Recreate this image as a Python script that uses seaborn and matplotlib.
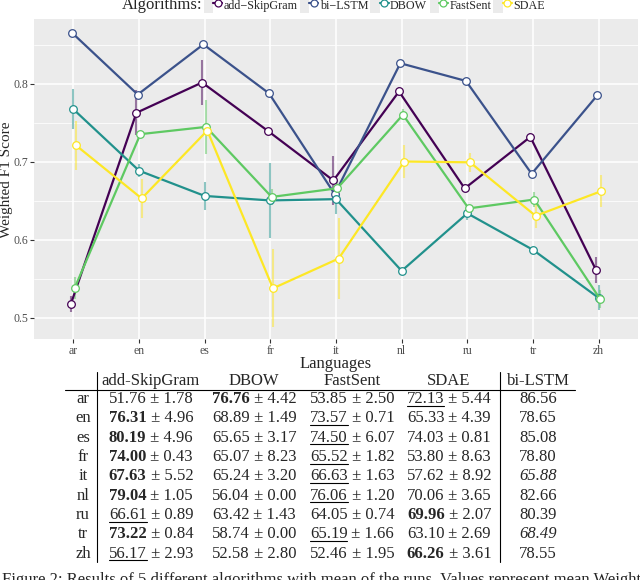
import numpy as np
import pandas as pd
import matplotlib
matplotlib.use("Agg")
import matplotlib.pyplot as plt
import seaborn as sns
from matplotlib.lines import Line2D
from matplotlib.patches import Patch
from matplotlib.legend_handler import HandlerTuple
from matplotlib.ticker import FixedLocator

# ---------------- data ----------------
languages = ["ar", "en", "es", "fr", "it", "nl", "ru", "tr", "zh"]
algorithms = ["add-SkipGram", "bi-LSTM", "DBOW", "FastSent", "SDAE"]
legend_labels = ["add\u2212SkipGram", "bi\u2212LSTM", "DBOW", "FastSent", "SDAE"]

skipgram_mean = [51.76, 76.31, 80.19, 74.00, 67.63, 79.04, 66.61, 73.22, 56.17]
skipgram_sd = [1.78, 4.96, 4.96, 0.43, 5.52, 1.05, 0.89, 0.84, 2.93]
dbow_mean = [76.76, 68.89, 65.65, 65.07, 65.24, 56.04, 63.42, 58.74, 52.58]
dbow_sd = [4.42, 1.49, 3.17, 8.23, 3.20, 0.00, 1.43, 0.00, 2.80]
fastsent_mean = [53.85, 73.57, 74.50, 65.52, 66.63, 76.06, 64.05, 65.19, 52.46]
fastsent_sd = [2.50, 0.71, 6.07, 1.82, 1.63, 1.20, 0.74, 1.66, 1.95]
sdae_mean = [72.13, 65.33, 74.03, 53.80, 57.62, 70.06, 69.96, 63.10, 66.26]
sdae_sd = [5.44, 4.39, 0.81, 8.63, 8.92, 3.65, 2.07, 2.69, 3.61]
bilstm_score = [86.56, 78.65, 85.08, 78.80, 65.88, 82.66, 80.39, 68.49, 78.55]
n_runs = 3

palette = ["#440154", "#3B528B", "#21918C", "#5EC962", "#FDE725"]

# ---------------- long table for the plot ----------------
means = {"add-SkipGram": skipgram_mean, "bi-LSTM": bilstm_score, "DBOW": dbow_mean,
         "FastSent": fastsent_mean, "SDAE": sdae_mean}
sds = {"add-SkipGram": skipgram_sd, "bi-LSTM": [np.nan] * 9, "DBOW": dbow_sd,
       "FastSent": fastsent_sd, "SDAE": sdae_sd}
dodge_width = 0.1
rows = []
for gi, alg in enumerate(algorithms):
    off = (gi - (len(algorithms) - 1) / 2) * dodge_width / len(algorithms)
    for li, lang in enumerate(languages):
        m = means[alg][li] / 100
        se = sds[alg][li] / 100 / np.sqrt(n_runs)
        rows.append(dict(Algorithm=alg, Language=lang, x=li + off, score=m,
                         lo=m - se, hi=m + se))
df = pd.DataFrame(rows)

# ---------------- figure ----------------
W, H = 640, 580
sns.set_style("darkgrid", {"axes.facecolor": "#EBEBEB", "grid.color": "white"})
serif = ["Liberation Serif", "DejaVu Serif"]
plt.rcParams["font.family"] = serif

fig = plt.figure(figsize=(W / 100, H / 100), dpi=100)
fig.patch.set_facecolor("white")


def fx(px):
    return px / W


def fy(py):
    return 1 - py / H


top_px, bot_px = 19, 339
ax = fig.add_axes([fx(34), fy(bot_px), fx(638 - 34), (bot_px - top_px) / H])
ax.set_facecolor("#EBEBEB")

# error bars
for gi, alg in enumerate(algorithms):
    sub = df[df.Algorithm == alg].dropna()
    if len(sub):
        ax.vlines(sub.x, sub.lo, sub.hi, color=palette[gi], alpha=0.5, lw=1.5, zorder=2)

sns.lineplot(data=df, x="x", y="score", hue="Algorithm", hue_order=algorithms,
             palette=palette, estimator=None, sort=True, lw=1.6, marker="o",
             markersize=5.5, markerfacecolor="white", markeredgewidth=0.9,
             legend=False, ax=ax, zorder=3)
for ln in ax.lines:
    ln.set_markeredgecolor(ln.get_color())

# 0.8 at y=84 px and 0.5 at y=318 px
ppu = (318 - 84) / 0.3
ax.set_ylim(0.5 - (bot_px - 318) / ppu, 0.8 + (84 - top_px) / ppu)
ax.set_xlim(-0.6, 8.6)
ax.set_xticks(range(len(languages)))
ax.set_xticklabels(languages)
ax.set_yticks([0.5, 0.6, 0.7, 0.8])
ax.set_yticklabels(["0.5", "0.6", "0.7", "0.8"])
ax.yaxis.set_minor_locator(FixedLocator([0.55, 0.65, 0.75, 0.85]))
ax.grid(which="major", color="white", lw=1.1)
ax.grid(which="minor", axis="y", color="white", lw=0.55)
ax.tick_params(which="major", length=3, color="#333333", labelcolor="#4D4D4D",
               labelsize=8.5, pad=1.2, bottom=True, left=True)
ax.tick_params(which="minor", length=0)
for s in ax.spines.values():
    s.set_visible(False)
ax.set_xlabel("")
ax.set_ylabel("")
for lab in ax.get_xticklabels() + ax.get_yticklabels():
    lab.set_family(serif)

fig.text(fx(336), fy(364), "Languages", ha="center", va="center", fontsize=12)
fig.text(fx(7), fy(180), "Weighted F1 Score", ha="center", va="center",
         rotation=90, fontsize=11)

# legend
handles = [(Patch(facecolor="#EBEBEB", edgecolor="none"),
            Line2D([], [], color=c, lw=1.6, marker="o", markersize=5,
                   markerfacecolor="white", markeredgecolor=c, markeredgewidth=0.9))
           for c in palette]
fig.legend(handles, legend_labels, handler_map={tuple: HandlerTuple(ndivide=None)},
           ncol=5, loc="center left", bbox_to_anchor=(fx(204), fy(5)), frameon=False,
           fontsize=8.7, handlelength=1.5, handleheight=1.6, handletextpad=0.12,
           columnspacing=0.2, borderpad=0, borderaxespad=0)
fig.text(fx(202), fy(5), "Algorithms:", ha="right", va="center", fontsize=12)

# ---------------- table ----------------
renderer = fig.canvas.get_renderer()
col_centers = [151, 254, 352, 449, 538]
row_label_x = 83
header_base = 385
row_base0 = 403
row_step = 19.35
fs = 12


def put_cell(xc, base, parts):
    texts = []
    for s, w, st, ul in parts:
        t = fig.text(0, fy(base), s, fontsize=fs, fontweight=w, fontstyle=st,
                     ha="left", va="baseline")
        texts.append((t, ul))
    widths = [t.get_window_extent(renderer).width for t, _ in texts]
    x = xc - sum(widths) / 2
    for (t, ul), w in zip(texts, widths):
        t.set_x(fx(x))
        if ul:
            fig.add_artist(Line2D([fx(x), fx(x + w)], [fy(base + 2.5)] * 2,
                                  color="black", lw=0.8))
        x += w


headers = ["add-SkipGram", "DBOW", "FastSent", "SDAE", "bi-LSTM"]
for xc, h in zip(col_centers, headers):
    put_cell(xc, header_base, [(h, "normal", "normal", False)])

table_means = [skipgram_mean, dbow_mean, fastsent_mean, sdae_mean]
table_sds = [skipgram_sd, dbow_sd, fastsent_sd, sdae_sd]
for li, lang in enumerate(languages):
    base = row_base0 + li * row_step
    fig.text(fx(row_label_x), fy(base), lang, fontsize=fs, ha="center", va="baseline")
    vals = [tm[li] for tm in table_means]
    order = np.argsort(vals)[::-1]
    best, second = order[0], order[1]
    for ci in range(4):
        m = table_means[ci][li]
        sd = table_sds[ci][li]
        put_cell(col_centers[ci], base,
                 [(f"{m:.2f}", "bold" if ci == best else "normal", "normal", ci == second),
                  (f" \u00b1 {sd:.2f}", "normal", "normal", False)])
    b = bilstm_score[li]
    put_cell(col_centers[4], base,
             [(f"{b:.2f}", "normal", "italic" if b < max(vals) else "normal", False)])

fig.add_artist(Line2D([fx(65), fx(575)], [fy(389.5)] * 2, color="black", lw=0.8))
for vx in [97, 500]:
    fig.add_artist(Line2D([fx(vx)] * 2, [fy(372), fy(562)], color="black", lw=0.8))

fig.text(fx(2), fy(584), "Figure 2: Results of 5 different algorithms with mean of the runs. "
         "Values represent mean Weighted F1 Score and", fontsize=12, ha="left", va="baseline")

fig.savefig("out.png", dpi=100)
